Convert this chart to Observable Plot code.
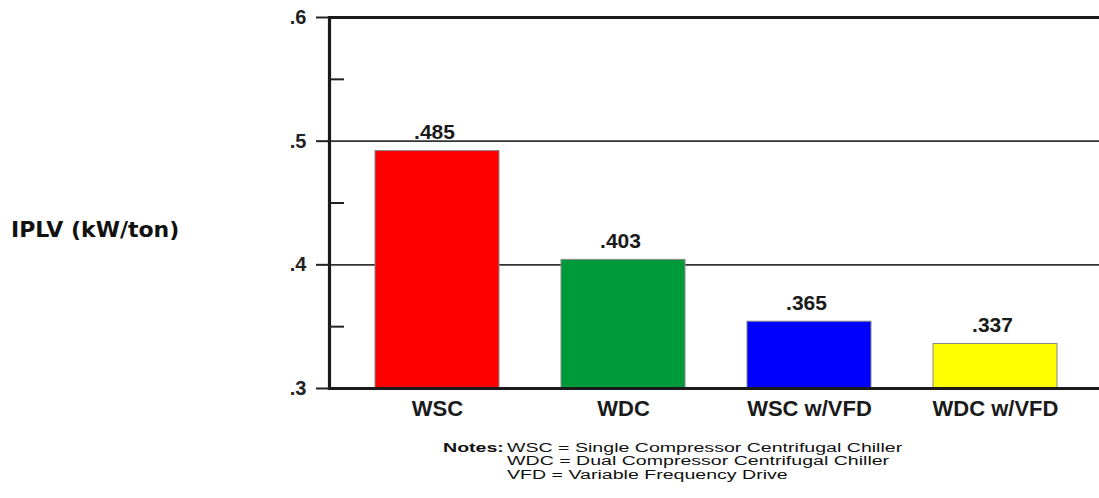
<!DOCTYPE html>
<html>
<head>
<meta charset="utf-8">
<script src="https://cdn.jsdelivr.net/npm/d3@7"></script>
<script src="https://cdn.jsdelivr.net/npm/@observablehq/plot@0.6"></script>
<style>
  html, body { margin: 0; padding: 0; background: #fff; }
  #wrap { position: relative; width: 1099px; height: 498px; overflow: hidden; background: #fff; }
  #chart { position: absolute; left: 0; top: 0; }
  #ylabel { position: absolute; left: 11px; top: 217px; font-family: "DejaVu Sans", Verdana, sans-serif; font-weight: bold; font-size: 22px; color: #111; white-space: nowrap; }
  #notes { position: absolute; left: 443px; top: 442px; font-family: "Liberation Sans", Arial, sans-serif; font-size: 12px; line-height: 13.4px; color: #111; white-space: nowrap; transform: scaleX(1.63); transform-origin: 0 0; }
  #notes .row { display: flex; height: 13.4px; }
  #notes .lab { width: 39.3px; font-weight: bold; }
</style>
</head>
<body>
<div id="wrap">
  <div id="chart"></div>
  <div id="ylabel">IPLV (kW/ton)</div>
  <div id="notes"></div>
</div>
<script>
// ---- data ----
const categories = ["WSC", "WDC", "WSC w/VFD", "WDC w/VFD"];
const values = [0.492, 0.404, 0.354, 0.336];
const valueLabels = [".485", ".403", ".365", ".337"];
const barColors = ["#ff0000", "#009a3a", "#0000ff", "#ffff00"];
const yDomain = [0.3, 0.6];
const yMajorTicks = [0.3, 0.4, 0.5, 0.6];
const yMinorTicks = [0.35, 0.45, 0.55];
const gridTicks = [0.4, 0.5];
const frameTicks = [0.3, 0.6];
const noteLabel = "Notes:";
const noteLines = [
  "WSC = Single Compressor Centrifugal Chiller",
  "WDC = Dual Compressor Centrifugal Chiller",
  "VFD = Variable Frequency Drive"
];

const data = categories.map((c, i) => ({cat: c, value: values[i], label: valueLabels[i]}));
const fmt = d => String(d).replace(/^0/, "");
const font = '"Liberation Sans", Arial, Helvetica, sans-serif';

const chart = Plot.plot({
  width: 1099,
  height: 430,
  marginTop: 17,
  marginBottom: 42,
  marginLeft: 329,
  marginRight: 0,
  style: {fontFamily: font, background: "transparent", color: "#111"},
  x: {domain: categories, range: [343, 1089], paddingInner: 0.335, paddingOuter: 0.1675, label: null},
  y: {domain: yDomain, label: null},
  color: {domain: categories, range: barColors},
  marks: [
    Plot.ruleY(gridTicks, {stroke: "#333", strokeWidth: 1.6}),
    Plot.barY(data, {x: "cat", y1: yDomain[0], y2: "value", fill: "cat", stroke: "#888", strokeWidth: 1}),
    Plot.ruleY(frameTicks, {stroke: "#1a1a1a", strokeWidth: 3.2}),
    Plot.frame({anchor: "left", stroke: "#1a1a1a", strokeWidth: 3.2}),
    Plot.axisY(yMajorTicks, {anchor: "left", tickSize: 13, tickPadding: 10, strokeWidth: 2, stroke: "#222", tickFormat: fmt, fontSize: 20, fontWeight: "bold", fill: "#222", label: null}),
    Plot.axisY(yMinorTicks, {anchor: "left", tickSize: 15, dx: 15, strokeWidth: 2, stroke: "#222", text: null, label: null}),
    Plot.axisX({anchor: "bottom", tickSize: 0, tickPadding: 12, fontSize: 22, fontWeight: "bold", fill: "#1a1a1a", label: null}),
    Plot.text(data, {x: "cat", y: "value", text: "label", dx: -3, dy: -12, lineAnchor: "bottom", fontSize: 21, fontWeight: "bold", fill: "#1a1a1a"})
  ]
});
document.getElementById("chart").appendChild(chart);

const notes = document.getElementById("notes");
noteLines.forEach((line, i) => {
  const row = document.createElement("div");
  row.className = "row";
  const lab = document.createElement("span");
  lab.className = "lab";
  lab.textContent = i === 0 ? noteLabel : "";
  const txt = document.createElement("span");
  txt.textContent = line;
  row.appendChild(lab);
  row.appendChild(txt);
  notes.appendChild(row);
});
</script>
</body>
</html>
